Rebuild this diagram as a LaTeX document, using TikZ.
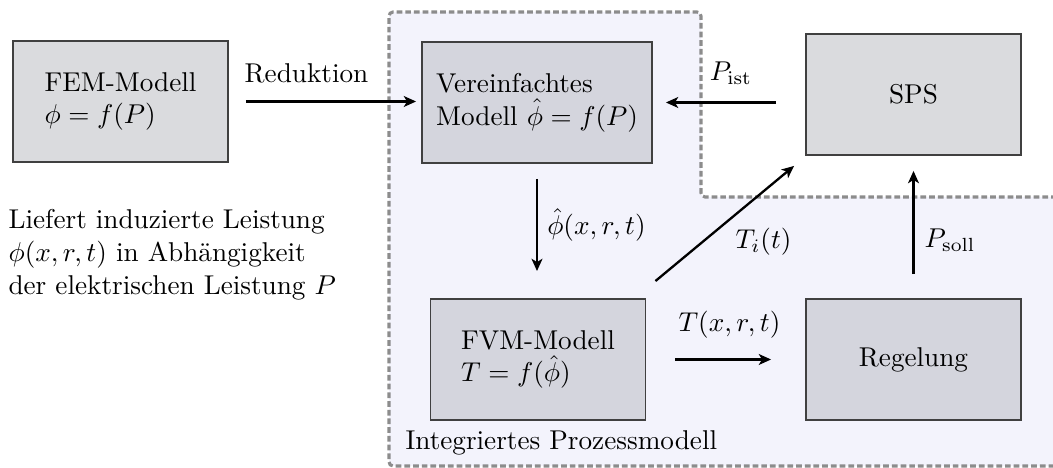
\documentclass[tikz,border=0pt]{standalone}
\usetikzlibrary{arrows.meta}
\definecolor{regioncol}{RGB}{243,243,252}
\definecolor{boxout}{RGB}{218,219,222}
\definecolor{boxin}{RGB}{212,213,221}
\definecolor{dashcol}{RGB}{140,140,140}
\definecolor{edgecol}{RGB}{64,64,64}
\def\pxu{0.3676pt}
\begin{document}
\begin{tikzpicture}[x=0.3676pt,y=-0.3676pt,
  box/.style={draw=edgecol, line width=0.7pt, align=left, inner sep=0pt,
    minimum width=215*\pxu, minimum height=121*\pxu},
  arr/.style={-{Stealth[length=4.5pt,width=4pt,inset=1.2pt]}, line width=0.85pt},
  lbl/.style={inner sep=0pt},
  regionline/.style={draw=dashcol, line width=1.15pt, dash pattern=on 2.1pt off 1.1pt,
    rounded corners=1.5pt, fill=regioncol}]
\useasboundingbox (0,0) rectangle (1053,468);
% integrated process model region
\path[regionline] (1150,466) -- (389,466) -- (389,12) -- (701,12) -- (701,197) -- (1150,197);
% boxes
\node[box, fill=boxout] (fem) at (120.5,101.5) {FEM-Modell\\$\phi = f(P)$};
\node[box, fill=boxin, minimum width=230*\pxu] (ver) at (537,102.5) {Vereinfachtes\\Modell $\hat{\phi} = f(P)$};
\node[box, fill=boxout] (sps) at (913.5,94.5) {SPS};
\node[box, fill=boxin] (fvm) at (538,359.5) {FVM-Modell\\$T = f(\hat{\phi})$};
\node[box, fill=boxin] (reg) at (913.5,359.5) {Regelung};
% connectors
\draw[arr, shorten <=17*\pxu, shorten >=5*\pxu] (fem.east) -- (fem.east -| ver.west);
\draw[arr, shorten <=29*\pxu, shorten >=13*\pxu] (sps.west |- ver.east) -- (ver.east);
\draw[arr, shorten <=15*\pxu, shorten >=27*\pxu] (ver.south) -- (ver.south |- fvm.north);
\draw[arr, shorten <=29*\pxu, shorten >=34*\pxu] (fvm.east) -- (reg.west);
\draw[arr] ([shift={(9,-17)}]fvm.north east) -- ([shift={(-11,10)}]sps.south west);
\draw[arr, shorten <=24*\pxu, shorten >=15*\pxu] (reg.north) -- (sps.south);
% labels
\node[lbl] (lred) at (306.5,73.3) {Reduktion};
\node[lbl] (list) at (731,73) {$P_{\mathrm{ist}}$};
\node[lbl] (lphi) at (596.5,225) {$\hat{\phi}(x,r,t)$};
\node[lbl] (ltxrt) at (729.5,324.5) {$T(x,r,t)$};
\node[lbl] (lti) at (763.5,241.4) {$T_i(t)$};
\node[lbl] (lsoll) at (950,240.5) {$P_{\mathrm{soll}}$};
\node[lbl, anchor=base west] (lint) at (405,450) {Integriertes Prozessmodell};
\node[lbl, anchor=north west, align=left] (ltext) at (8,209) {Liefert induzierte Leistung\\$\phi(x,r,t)$ in Abh\"angigkeit\\der elektrischen Leistung $P$};
\end{tikzpicture}
\end{document}
